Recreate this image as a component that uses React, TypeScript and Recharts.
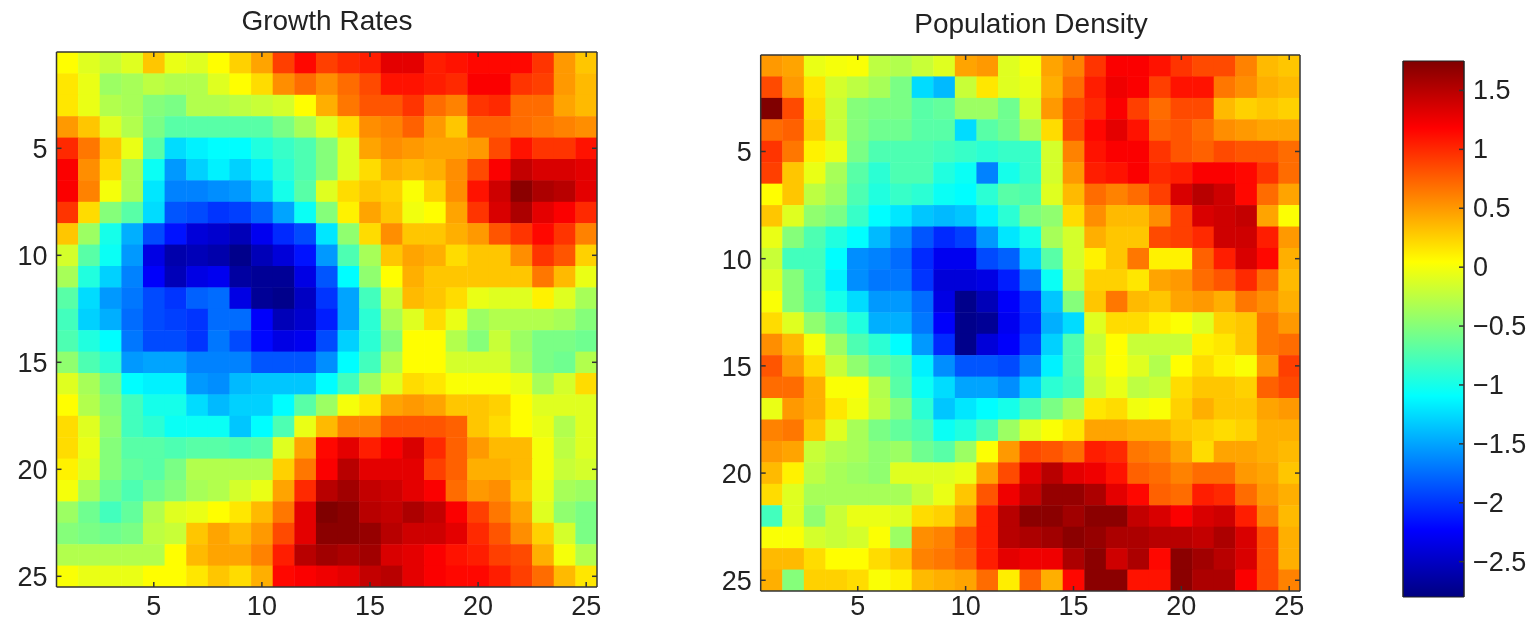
import React from 'react';
import { BarChart, Bar, ScatterChart, Scatter, XAxis, YAxis } from 'recharts';

// heat map rows, top to bottom
const growthRates: number[][] = [
  [0.05, -0.1, -0.2, -0.1, 0.3, -0.05, -0.1, 0.05, 0.25, 0.45, 0.9, 1.15, 0.9, 1.0, 1.05, 1.3, 1.3, 1.05, 1.1, 1.15, 1.15, 1.15, 0.95, 0.5, 0.3],
  [0.15, -0.05, -0.4, -0.35, -0.25, -0.3, -0.3, -0.1, 0.05, 0.2, 0.55, 0.7, 0.55, 0.7, 0.85, 1.1, 1.1, 1.05, 1.0, 1.2, 1.2, 0.95, 0.9, 0.5, 0.35],
  [0.15, -0.05, -0.3, -0.35, -0.5, -0.55, -0.3, -0.3, -0.25, -0.2, -0.15, 0.05, 0.4, 0.65, 0.8, 0.8, 0.95, 0.7, 0.6, 0.95, 1.0, 0.7, 0.7, 0.45, 0.35],
  [0.5, 0.3, -0.1, -0.3, -0.55, -0.7, -0.7, -0.7, -0.7, -0.7, -0.55, -0.35, -0.1, 0.2, 0.55, 0.6, 0.75, 0.5, 0.3, 0.75, 0.75, 0.7, 0.65, 0.6, 0.55],
  [1.0, 0.65, 0.3, -0.05, -0.7, -1.25, -1.15, -1.1, -1.1, -0.95, -0.85, -0.75, -0.5, -0.1, 0.45, 0.55, 0.5, 0.45, 0.45, 0.5, 0.85, 1.1, 0.95, 0.95, 1.1],
  [1.2, 0.55, 0.2, -0.35, -1.05, -1.55, -1.3, -1.15, -1.3, -1.15, -0.9, -0.75, -0.5, -0.1, 0.2, 0.4, 0.35, 0.4, 0.55, 0.85, 1.2, 1.45, 1.35, 1.35, 1.3],
  [1.2, 0.6, 0.0, -0.35, -1.2, -1.65, -1.65, -1.6, -1.55, -1.35, -1.0, -0.7, -0.1, 0.2, 0.3, 0.25, 0.02, 0.25, 0.55, 1.1, 1.4, 1.7, 1.55, 1.5, 1.3],
  [0.95, 0.2, -0.5, -0.7, -1.25, -1.85, -1.9, -2.0, -1.95, -1.8, -1.5, -1.05, -0.5, 0.1, 0.45, 0.3, -0.02, 0.05, 0.45, 0.95, 1.35, 1.55, 1.3, 1.2, 1.0],
  [0.3, -0.4, -1.0, -1.45, -1.9, -2.15, -2.4, -2.45, -2.55, -2.3, -2.05, -1.9, -1.2, -0.45, 0.2, 0.55, 0.3, 0.3, 0.4, 0.5, 0.8, 0.95, 1.15, 0.95, 0.6],
  [-0.15, -0.7, -1.05, -1.55, -2.35, -2.6, -2.55, -2.6, -2.75, -2.55, -2.4, -2.15, -1.55, -0.75, -0.35, 0.3, 0.45, 0.4, 0.2, 0.3, 0.3, 0.55, 0.95, 0.8, 0.25],
  [-0.35, -0.95, -1.3, -1.65, -2.25, -2.55, -2.35, -2.3, -2.65, -2.7, -2.7, -2.35, -1.85, -1.1, -0.45, 0.05, 0.4, 0.3, 0.3, 0.3, 0.3, 0.3, 0.65, 0.35, -0.05],
  [-0.7, -1.25, -1.55, -1.7, -1.9, -2.0, -1.8, -1.75, -2.35, -2.7, -2.75, -2.5, -2.0, -1.5, -0.8, -0.2, 0.35, 0.3, 0.2, -0.05, -0.1, -0.1, 0.1, -0.1, -0.35],
  [-0.8, -1.3, -1.45, -1.75, -1.9, -1.95, -2.0, -1.75, -1.75, -2.25, -2.55, -2.45, -2.1, -1.5, -0.9, -0.35, -0.1, 0.2, -0.05, -0.4, -0.3, -0.3, -0.3, -0.35, -0.5],
  [-0.75, -0.95, -1.1, -1.7, -1.9, -1.9, -2.0, -1.7, -1.9, -2.2, -2.35, -2.3, -1.9, -1.3, -0.9, -0.5, 0.05, 0.05, -0.3, -0.5, -0.2, -0.4, -0.55, -0.55, -0.6],
  [-0.45, -0.75, -0.9, -1.55, -1.5, -1.5, -1.65, -1.65, -1.65, -1.85, -1.85, -1.85, -1.6, -1.1, -0.8, -0.3, 0.05, 0.05, -0.15, -0.15, -0.15, -0.35, -0.55, -0.6, -0.3],
  [-0.1, -0.35, -0.6, -1.1, -1.15, -1.15, -1.55, -1.6, -1.4, -1.35, -1.35, -1.35, -1.1, -0.8, -0.4, -0.1, 0.2, 0.15, 0.02, 0.02, 0.02, -0.05, -0.35, -0.15, 0.2],
  [0.05, -0.3, -0.5, -0.8, -1.0, -1.0, -1.25, -1.4, -1.3, -1.3, -1.1, -0.7, -0.4, 0.0, 0.15, 0.45, 0.5, 0.45, 0.3, 0.3, 0.25, 0.05, -0.1, -0.1, -0.1],
  [0.2, -0.1, -0.45, -0.8, -0.9, -1.05, -1.05, -1.05, -1.35, -1.1, -0.75, -0.05, 0.35, 0.6, 0.6, 0.8, 0.8, 0.8, 0.75, 0.3, 0.2, 0.05, -0.05, -0.3, -0.1],
  [0.2, -0.05, -0.5, -0.7, -0.7, -0.75, -0.7, -0.7, -0.75, -0.7, -0.1, 0.45, 1.15, 1.3, 1.05, 1.2, 1.35, 1.0, 0.75, 0.5, 0.35, 0.35, 0.0, -0.25, -0.1],
  [0.1, -0.1, -0.5, -0.65, -0.7, -0.55, -0.3, -0.3, -0.3, -0.3, 0.25, 0.65, 1.2, 1.5, 1.3, 1.3, 1.3, 0.9, 0.75, 0.4, 0.4, 0.35, 0.0, -0.2, -0.15],
  [0.0, -0.35, -0.6, -0.75, -0.6, -0.5, -0.35, -0.3, -0.15, -0.05, 0.45, 1.0, 1.5, 1.6, 1.45, 1.4, 1.3, 1.2, 0.7, 0.5, 0.55, 0.3, -0.05, -0.35, -0.4],
  [-0.4, -0.6, -0.8, -0.65, -0.3, -0.1, -0.05, 0.05, 0.15, 0.35, 0.65, 1.3, 1.75, 1.7, 1.5, 1.45, 1.55, 1.45, 1.2, 0.9, 0.65, 0.45, -0.1, -0.45, -0.55],
  [-0.5, -0.55, -0.6, -0.55, -0.25, -0.2, 0.3, 0.45, 0.35, 0.5, 0.85, 1.3, 1.7, 1.7, 1.65, 1.5, 1.4, 1.4, 1.3, 1.0, 0.8, 0.55, 0.25, -0.15, -0.55],
  [-0.3, -0.3, -0.3, -0.3, -0.3, 0.05, 0.35, 0.45, 0.45, 0.6, 1.05, 1.5, 1.6, 1.55, 1.6, 1.35, 1.3, 1.2, 1.1, 1.05, 0.9, 0.85, 0.4, 0.0, -0.3],
  [0.02, -0.05, -0.05, -0.05, 0.05, 0.05, 0.15, 0.3, 0.2, 0.4, 1.15, 1.2, 1.25, 1.3, 1.45, 1.5, 1.3, 1.2, 1.15, 1.15, 1.05, 0.9, 0.7, 0.35, 0.15],
];

const populationDensity: number[][] = [
  [0.5, 0.45, -0.05, 0.0, 0.02, -0.25, -0.3, -0.2, -0.1, 0.45, 0.5, -0.1, 0.0, 0.45, 0.6, 0.95, 1.2, 1.2, 1.1, 0.95, 0.85, 0.85, 0.6, 0.35, 0.3],
  [0.85, 0.5, 0.15, -0.15, -0.25, -0.35, -0.55, -1.25, -1.4, -0.2, 0.15, -0.1, -0.05, 0.4, 0.7, 1.05, 1.25, 1.2, 0.9, 1.1, 1.1, 0.65, 0.55, 0.4, 0.35],
  [1.75, 0.85, 0.2, -0.2, -0.5, -0.55, -0.55, -0.7, -0.65, -0.4, -0.4, -0.6, -0.15, 0.5, 0.85, 1.0, 1.2, 0.9, 0.7, 0.85, 0.85, 0.35, 0.25, 0.3, 0.25],
  [0.7, 0.75, 0.25, -0.2, -0.5, -0.6, -0.6, -0.7, -0.7, -1.25, -0.7, -0.6, -0.35, 0.2, 0.85, 1.15, 1.3, 1.1, 0.75, 0.8, 0.7, 0.55, 0.5, 0.45, 0.45],
  [0.95, 0.65, 0.1, -0.05, -0.55, -0.75, -0.75, -0.75, -0.8, -0.85, -0.9, -0.85, -0.85, -0.15, 0.6, 1.1, 1.2, 1.2, 0.95, 0.8, 0.75, 0.85, 0.8, 0.8, 0.7],
  [0.9, 0.3, -0.05, -0.35, -0.7, -0.9, -0.75, -0.75, -0.95, -1.05, -1.65, -1.0, -0.85, -0.15, 0.5, 1.05, 1.1, 1.2, 1.0, 1.05, 1.2, 1.2, 1.15, 0.95, 0.7],
  [0.05, 0.3, -0.25, -0.4, -0.75, -0.95, -0.85, -0.9, -1.05, -1.1, -0.9, -0.7, -0.75, -0.1, 0.35, 0.7, 0.6, 0.7, 0.9, 1.35, 1.5, 1.4, 1.15, 0.7, 0.45],
  [0.3, -0.1, -0.45, -0.55, -0.85, -1.1, -1.2, -1.35, -1.4, -1.35, -1.15, -0.9, -0.55, -0.45, 0.2, 0.55, 0.35, 0.35, 0.55, 0.9, 1.35, 1.4, 1.45, 0.45, 0.03],
  [-0.05, -0.5, -0.75, -0.95, -1.1, -1.4, -1.6, -1.85, -2.05, -1.95, -1.55, -1.2, -1.0, -0.35, -0.15, 0.4, 0.3, 0.3, 0.85, 0.9, 1.0, 1.4, 1.4, 1.05, 0.5],
  [-0.2, -0.8, -0.8, -1.1, -1.6, -1.65, -1.75, -2.05, -2.3, -2.3, -1.9, -1.8, -1.3, -0.7, -0.15, 0.1, 0.3, 0.65, 0.1, 0.1, 0.75, 1.05, 1.35, 1.15, 0.4],
  [-0.1, -0.5, -0.8, -1.15, -1.6, -1.7, -1.7, -2.0, -2.4, -2.4, -2.35, -2.1, -1.7, -1.05, -0.2, 0.25, 0.25, 0.15, 0.45, 0.5, 0.7, 0.8, 1.0, 0.7, 0.35],
  [0.02, -0.5, -0.75, -1.0, -1.25, -1.55, -1.55, -1.75, -2.35, -2.75, -2.55, -2.25, -2.0, -1.35, -0.5, 0.3, 0.65, 0.35, 0.3, 0.45, 0.5, 0.4, 0.65, 0.55, 0.4],
  [0.2, -0.1, -0.45, -0.7, -0.95, -1.45, -1.45, -1.7, -2.25, -2.75, -2.7, -2.3, -2.05, -1.45, -1.25, -0.1, 0.2, 0.2, 0.1, 0.03, -0.1, 0.25, 0.3, 0.65, 0.5],
  [0.55, 0.35, 0.0, -0.4, -0.75, -0.9, -1.1, -1.55, -2.05, -2.75, -2.4, -2.25, -1.95, -1.3, -0.75, -0.2, 0.05, -0.2, -0.2, -0.2, 0.1, 0.15, 0.3, 0.65, 0.7],
  [0.8, 0.5, 0.2, -0.2, -0.45, -0.65, -0.75, -1.15, -1.6, -1.85, -1.85, -1.9, -1.65, -1.15, -0.75, -0.15, 0.03, -0.1, -0.3, 0.05, 0.2, 0.1, 0.02, 0.5, 0.9],
  [0.7, 0.7, 0.4, 0.02, 0.02, -0.3, -0.7, -1.05, -1.25, -1.5, -1.5, -1.6, -1.3, -0.9, -0.8, -0.2, -0.05, -0.25, -0.2, 0.2, 0.3, 0.3, 0.25, 0.75, 0.85],
  [-0.05, 0.5, 0.4, 0.15, -0.02, -0.25, -0.5, -0.9, -1.35, -1.2, -1.1, -1.0, -0.75, -0.55, -0.35, 0.15, 0.2, -0.02, 0.02, 0.25, 0.4, 0.3, 0.3, 0.45, 0.5],
  [0.6, 0.65, 0.3, -0.1, -0.35, -0.55, -0.65, -0.75, -1.05, -0.95, -0.75, -0.4, -0.1, 0.02, 0.15, 0.45, 0.45, 0.4, 0.4, 0.3, 0.25, 0.2, 0.25, 0.4, 0.4],
  [0.5, 0.45, -0.2, -0.3, -0.35, -0.45, -0.4, -0.6, -0.7, -0.4, 0.03, 0.5, 0.85, 0.8, 0.7, 1.05, 1.0, 0.65, 0.6, 0.45, 0.2, 0.45, 0.45, 0.4, 0.35],
  [0.35, 0.1, -0.25, -0.35, -0.4, -0.45, -0.1, -0.1, -0.1, -0.05, 0.45, 0.85, 1.3, 1.5, 1.3, 1.25, 1.1, 0.75, 0.7, 0.6, 0.7, 0.7, 0.5, 0.45, 0.3],
  [0.2, -0.1, -0.35, -0.35, -0.35, -0.35, -0.35, -0.2, -0.05, 0.3, 0.8, 1.25, 1.45, 1.65, 1.65, 1.55, 1.3, 1.15, 0.75, 0.7, 1.05, 1.0, 0.7, 0.5, 0.4],
  [-0.8, -0.1, -0.45, -0.2, -0.05, -0.05, -0.1, 0.2, 0.25, 0.5, 1.05, 1.5, 1.7, 1.7, 1.6, 1.7, 1.7, 1.45, 1.35, 1.2, 1.35, 1.4, 1.05, 0.6, 0.35],
  [0.02, 0.02, -0.15, -0.2, -0.15, 0.03, -0.4, 0.55, 0.6, 0.8, 1.05, 1.5, 1.55, 1.6, 1.7, 1.65, 1.55, 1.55, 1.5, 1.5, 1.45, 1.55, 1.35, 0.85, 0.4],
  [0.35, 0.35, 0.2, 0.05, 0.05, 0.2, 0.3, 0.6, 0.65, 0.75, 1.05, 1.3, 1.25, 1.25, 1.55, 1.7, 1.4, 1.55, 1.15, 1.7, 1.6, 1.5, 1.35, 0.85, 0.4],
  [0.4, -0.5, 0.25, 0.25, 0.2, 0.02, 0.1, 0.35, 0.4, 0.45, 0.7, 0.12, 0.75, 0.4, 1.15, 1.7, 1.7, 1.1, 1.1, 1.7, 1.55, 1.55, 1.2, 0.85, 0.6],
];

const mapTicks = [5, 10, 15, 20, 25];
const barTicks = [-2.5, -2, -1.5, -1, -0.5, 0, 0.5, 1, 1.5];
const barRange: [number, number] = [-2.8, 1.75];
const barData = [{ name: 'jet', range: barRange }];

// jet colormap anchors, top of the colorbar first
const jetOffsets = ['0%', '12.5%', '37.5%', '62.5%', '87.5%', '100%'];
const jetColors = ['#800000', '#ff0000', '#ffff00', '#00ffff', '#0000ff', '#000080'];

const ink = '#333';
const font = '"Liberation Sans", Arial, sans-serif';
const tickFont = 27;

const jet = (v: number) => {
  const t = (v - barRange[0]) / (barRange[1] - barRange[0]);
  const ch = (c: number) => Math.round(255 * Math.max(0, Math.min(1, 1.5 - Math.abs(4 * t - c))));
  return `rgb(${ch(3)},${ch(2)},${ch(1)})`;
};

const fmt = (v: number) => (v < 0 ? '\u2212' + Math.abs(v) : String(v));

const toCells = (rows: number[][]) =>
  rows.flatMap((row, r) => row.map((value, c) => ({ x: c + 1, y: r + 1, value })));

// tick mark pointing into the plot, with an optional label outside it
const InTick = ({ x, y, side, label, below, payload }: any) => {
  const len = 5;
  const dx = side === 'left' ? len : side === 'right' ? -len : 0;
  const dy = side === 'bottom' ? -len : side === 'top' ? len : 0;
  const common = { fontSize: tickFont, fontFamily: font, fill: '#222' };
  return (
    <g>
      <line x1={x} y1={y} x2={x + dx} y2={y + dy} stroke={ink} strokeWidth={1.5} />
      {label === 'bottom' && (
        <text x={x} y={y + below} textAnchor="middle" {...common}>
          {fmt(payload.value)}
        </text>
      )}
      {label === 'left' && (
        <text x={x - 9} y={y + 10} textAnchor="end" {...common}>
          {fmt(payload.value)}
        </text>
      )}
      {label === 'right' && (
        <text x={x + 9} y={y + 9} textAnchor="start" {...common}>
          {fmt(payload.value)}
        </text>
      )}
    </g>
  );
};

interface MapProps {
  rows: number[][];
  left: number;
  width: number;
  marginTop: number;
  marginRight: number;
  yWidth: number;
  xHeight: number;
  below: number;
  cellW: number;
  cellH: number;
}

const noMark = () => null;

const HeatMap: React.FC<MapProps> = ({ rows, left, width, marginTop, marginRight, yWidth, xHeight, below, cellW, cellH }) => {
  const axis = {
    type: 'number' as const,
    domain: [0.5, 25.5],
    ticks: mapTicks,
    interval: 0 as const,
    tickLine: false,
    tickSize: 0,
    tickMargin: 0,
    allowDataOverflow: true,
  };
  const line = { stroke: ink, strokeWidth: 1.5 };
  const cells = toCells(rows);
  return (
    <>
      <div style={{ position: 'absolute', left, top: 40 }}>
        <ScatterChart width={width} height={581} margin={{ top: marginTop, right: marginRight, bottom: 0, left: 0 }}>
          <XAxis {...axis} dataKey="x" height={xHeight} tick={false} axisLine={false} />
          <YAxis {...axis} dataKey="y" reversed width={yWidth} tick={false} axisLine={false} />
          <Scatter
            data={cells}
            isAnimationActive={false}
            shape={(p: any) => (
              <rect
                x={p.cx - cellW / 2}
                y={p.cy - cellH / 2}
                width={cellW + 0.5}
                height={cellH + 0.5}
                fill={jet(p.payload.value)}
              />
            )}
          />
        </ScatterChart>
      </div>
      {/* axes go in a second chart on top, the cells would cover them otherwise.
          The top and right axes need 1px of room or recharts skips them. */}
      <div style={{ position: 'absolute', left, top: 40 }}>
        <ScatterChart width={width} height={581} margin={{ top: marginTop - 1, right: marginRight - 1, bottom: 0, left: 0 }}>
          <XAxis {...axis} xAxisId="b" dataKey="x" height={xHeight} axisLine={line} tick={<InTick side="bottom" label="bottom" below={below} />} />
          <XAxis {...axis} xAxisId="t" dataKey="x" orientation="top" height={1} axisLine={line} tick={<InTick side="top" />} />
          <YAxis {...axis} yAxisId="l" dataKey="y" reversed width={yWidth} axisLine={line} tick={<InTick side="left" label="left" />} />
          <YAxis {...axis} yAxisId="r" dataKey="y" orientation="right" reversed width={1} axisLine={line} tick={<InTick side="right" />} />
          <Scatter xAxisId="b" yAxisId="l" data={cells} shape={noMark} isAnimationActive={false} />
          <Scatter xAxisId="t" yAxisId="r" data={cells} shape={noMark} isAnimationActive={false} />
        </ScatterChart>
      </div>
    </>
  );
};

const barAxis = {
  type: 'number' as const,
  domain: barRange,
  ticks: barTicks,
  interval: 0 as const,
  tickLine: false,
  tickSize: 0,
  tickMargin: 0,
};

const ColorBar: React.FC = () => (
  <>
    <div style={{ position: 'absolute', left: 1390, top: 40 }}>
      <BarChart width={143} height={581} data={barData} barCategoryGap={0} margin={{ top: 21, right: 0, bottom: 24, left: 13 }}>
        <defs>
          <linearGradient id="jetBar" x1="0" y1="0" x2="0" y2="1">
            {jetColors.map((c, i) => (
              <stop key={c} offset={jetOffsets[i]} stopColor={c} />
            ))}
          </linearGradient>
        </defs>
        <XAxis dataKey="name" hide />
        <YAxis {...barAxis} yAxisId="r" orientation="right" width={69} tick={false} axisLine={false} />
        <Bar yAxisId="r" dataKey="range" fill="url(#jetBar)" stroke="#222" isAnimationActive={false} />
      </BarChart>
    </div>
    <div style={{ position: 'absolute', left: 1390, top: 40 }}>
      <BarChart width={143} height={581} data={barData} barCategoryGap={0} margin={{ top: 21, right: 0, bottom: 24, left: 12 }}>
        <XAxis dataKey="name" hide />
        <YAxis {...barAxis} yAxisId="r" orientation="right" width={69} axisLine={{ stroke: '#222' }} tick={<InTick side="right" label="right" />} />
        <YAxis {...barAxis} yAxisId="l" width={1} axisLine={{ stroke: '#222' }} tick={<InTick side="left" />} />
        <Bar yAxisId="r" dataKey="range" fill="none" isAnimationActive={false} />
      </BarChart>
    </div>
  </>
);

const Title = ({ text, cx, y }: { text: string; cx: number; y: number }) => (
  <div
    style={{
      position: 'absolute',
      left: cx - 180,
      top: y,
      width: 360,
      textAlign: 'center',
      fontFamily: font,
      fontSize: 28,
      lineHeight: '24px',
      color: '#222',
    }}
  >
    {text}
  </div>
);

export default function App() {
  return (
    <div
      style={{
        position: 'absolute',
        left: 0,
        top: 0,
        width: 1533,
        height: 621,
        background: '#fff',
        overflow: 'hidden',
        filter: 'blur(0.7px)', // the reference is a soft screenshot
      }}
    >
      <Title text="Growth Rates" cx={327} y={9} />
      <Title text="Population Density" cx={1031} y={12} />
      <HeatMap rows={growthRates} left={0} width={620} marginTop={12} marginRight={23} yWidth={56.5} xHeight={34} below={28} cellW={21.62} cellH={21.4} />
      <HeatMap rows={populationDensity} left={700} width={620} marginTop={15} marginRight={20} yWidth={60.7} xHeight={30} below={24} cellW={21.57} cellH={21.43} />
      <ColorBar />
    </div>
  );
}
